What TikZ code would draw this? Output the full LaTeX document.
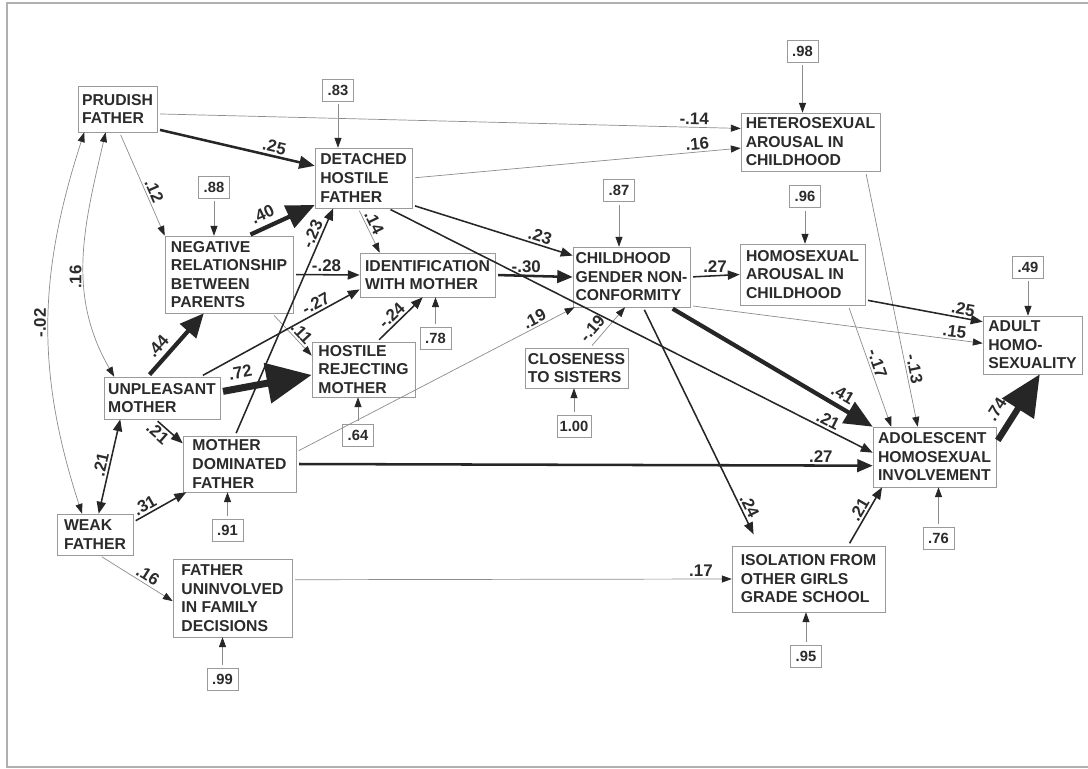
\documentclass[tikz,border=0pt]{standalone}
\usepackage{fontspec}
\setmainfont{Liberation Sans}
\usepackage{tikz}
\usetikzlibrary{arrows.meta}
\definecolor{txt}{HTML}{2B2B2B}
\definecolor{boxgray}{HTML}{9A9A9A}
\definecolor{linegray}{HTML}{8C8C8C}
\definecolor{arrowblack}{HTML}{262626}
\definecolor{framegray}{HTML}{B0B0B0}
\newcommand{\boxfont}{\fontsize{11.2}{13.2}\selectfont\bfseries}
\newcommand{\labfont}{\fontsize{12}{14}\selectfont\bfseries}
\newcommand{\resfont}{\fontsize{10.5}{12}\selectfont\bfseries}

\begin{document}
\begin{tikzpicture}[x=0.025cm,y=-0.025cm,
	var/.style 2 args={draw=boxgray,fill=white,text=txt,font=\boxfont,align=left,inner sep=1.5pt,
		minimum width=#1*0.025cm,minimum height=#2*0.025cm},
	res/.style={draw=boxgray,fill=white,text=txt,font=\resfont,inner sep=2pt,
		minimum width=31*0.025cm,minimum height=22*0.025cm},
	lab/.style={font=\labfont,text=txt,inner sep=1.5pt},
	minor/.style={color=linegray,line width=0.5pt,shorten <=2pt,
		-{Triangle[length=7pt,width=5pt,color=arrowblack]}},
	minor2/.style={color=linegray,line width=0.5pt,
		{Triangle[length=7pt,width=5pt,color=arrowblack]}-{Triangle[length=7pt,width=5pt,color=arrowblack]}},
	effect/.style={color=arrowblack,line width=1.1pt,shorten <=2pt,-{Triangle[length=8.5pt,width=6.5pt]}},
	effect2/.style={color=arrowblack,line width=1.1pt,{Triangle[length=8.5pt,width=6.5pt]}-{Triangle[length=8.5pt,width=6.5pt]}},
	strong/.style n args={3}{color=arrowblack,line width=#1,shorten <=2pt,-{Triangle[length=#2,width=#3]}}]
	\useasboundingbox (0,0) rectangle (1088,769);
	\draw[framegray,line width=1.2pt] (1088,3) -- (7,3) -- (7,767) -- (1088,767);

	% variables
	\node[var={79}{46}] (prud) at (117.5,109) {PRUDISH\\FATHER};
	\node[var={97}{60}] (det) at (363.5,178) {DETACHED\\HOSTILE\\FATHER};
	\node[var={128}{77}] (neg) at (229,274.5) {NEGATIVE\\RELATIONSHIP\\BETWEEN\\PARENTS};
	\node[var={135}{44}] (ident) at (427.5,275) {IDENTIFICATION\\WITH MOTHER};
	\node[var={103}{55}] (hostrej) at (363.5,369.5) {HOSTILE\\REJECTING\\MOTHER};
	\node[var={116}{42}] (unpl) at (162,398) {UNPLEASANT\\MOTHER};
	\node[var={113}{56}] (mdom) at (239.5,464) {MOTHER\\DOMINATED\\FATHER};
	\node[var={76}{41}] (weak) at (95,534.5) {WEAK\\FATHER};
	\node[var={119}{78}] (funinv) at (232.5,598) {FATHER\\UNINVOLVED\\IN FAMILY\\DECISIONS};
	\node[var={117}{60}] (child) at (631.5,277) {CHILDHOOD\\GENDER NON-\\CONFORMITY};
	\node[var={103}{40}] (close) at (576.5,368) {CLOSENESS\\TO SISTERS};
	\node[var={139}{58}] (hetero) at (810.5,142) {HETEROSEXUAL\\AROUSAL IN\\CHILDHOOD};
	\node[var={125}{61}] (homo) at (802.5,274.5) {HOMOSEXUAL\\AROUSAL IN\\CHILDHOOD};
	\node[var={99}{58}] (adult) at (1032.5,345) {ADULT\\HOMO-\\SEXUALITY};
	\node[var={123}{60}] (adol) at (934.5,457) {ADOLESCENT\\HOMOSEXUAL\\INVOLVEMENT};
	\node[var={153}{66}] (iso) at (808.5,579) {ISOLATION FROM\\OTHER GIRLS\\GRADE SCHOOL};

	% residuals
	\node[res] (r83) at (338,90) {.83};
	\node[res] (r98) at (802.5,51) {.98};
	\node[res] (r88) at (214,187) {.88};
	\node[res] (r87) at (619,190.5) {.87};
	\node[res] (r96) at (805,196.5) {.96};
	\node[res] (r49) at (1028,267) {.49};
	\node[res] (r78) at (435.5,338) {.78};
	\node[res] (r64) at (358,435.5) {.64};
	\node[res] (r100) at (574,426) {1.00};
	\node[res] (r91) at (227.5,530) {.91};
	\node[res] (r76) at (938.5,538) {.76};
	\node[res] (r99) at (222.5,679) {.99};
	\node[res] (r95) at (806,656.5) {.95};

	\path[minor]
	(r83.south) edge (r83.south |- det.north)
	(r98.south) edge (r98.south |- hetero.north)
	(r88.south) edge (r88.south |- neg.north)
	(r87.south) edge (r87.south |- child.north)
	(r96.south) edge (r96.south |- homo.north)
	(r49.south) edge (r49.south |- adult.north)
	(r78.north) edge (r78.north |- ident.south)
	(r64.north) edge (r64.north |- hostrej.south)
	(r100.north) edge (r100.north |- close.south)
	(r91.north) edge (r91.north |- mdom.south)
	(r76.north) edge (r76.north |- adol.south)
	(r99.north) edge (r99.north |- funinv.south)
	(r95.north) edge (r95.north |- iso.south);

	% weak paths
	\path[minor]
	(prud.-7) edge node[lab,pos=.92,above,sloped] {-.14} (hetero.169)
	(prud.-85) edge node[lab,pos=.6,above,sloped] {.12} (neg.north west)
	(det.east) edge node[lab,pos=.87,above,sloped] {.16} (hetero.-175)
	(det.-100) edge node[lab,pos=.4,above,sloped] {.14} (ident.155)
	(neg.-42) edge node[lab,pos=.6,above,sloped] {.11} (hostrej.165)
	(weak.-78) edge node[lab,pos=.6,above,sloped] {.16} (funinv.-177)
	(funinv.17) edge node[lab,pos=.93,above] {.17} (iso.west)
	(mdom.12) edge node[lab,pos=.87,above,sloped] {.19} (child.-152)
	(close.56) edge node[lab,pos=.3,above=2pt,sloped] {-.19} (child.-102)
	(child.-26) edge node[lab,pos=.9,above,sloped] {.15} (adult.178)
	(hetero.-28) edge node[lab,pos=.78,above,sloped] {-.13} (adol.119)
	(homo.-34) edge node[lab,pos=.5,above,sloped] {-.17} (adol.145);
	\path[minor2]
	(prud.-117) edge[out=-103,in=120] node[lab,pos=.58,anchor=south,rotate=90] {.16} (unpl.156)
	(prud.-145) edge[out=-108,in=108] node[lab,pos=.5,anchor=south,rotate=90] {-.02} (weak.122);

	% paths
	\path[effect]
	(neg.east) edge node[lab,above] {-.28} (ident.west)
	(unpl.29) edge node[lab,pos=.75,above,sloped] {-.27} (ident.-168)
	(mdom.99) edge node[lab,pos=.87,above,sloped] {-.23} (det.-135)
	(hostrej.64) edge node[lab,pos=.45,above,sloped] {-.24} (ident.-102)
	(det.-29) edge node[lab,pos=.78,above,sloped] {.23} (child.160)
	(det.-51) edge node[lab,pos=.9,above,sloped] {.21} (adol.176)
	(child.east) edge node[lab,above] {.27} (homo.west)
	(homo.-22) edge node[lab,pos=.82,above,sloped] {.25} (adult.155)
	(child.-69) edge[shorten >=9pt] node[lab,pos=.85,above,sloped] {.24} (iso.146)
	(iso.40) edge node[lab,pos=.55,above,sloped] {.21} (adol.-150)
	(unpl.-107) edge node[lab,pos=.3,below,sloped] {.21} (mdom.160)
	(weak.18) edge node[lab,pos=.3,above,sloped] {.31} (mdom.-152);
	\path[effect2]
	(unpl.-153) edge node[lab,above,sloped] {.21} (weak.80);
	\path[strong={1.8pt}{11pt}{9pt}]
	(prud.-27) edge node[lab,pos=.73,above,sloped] {.25} (det.166)
	(ident.east) edge node[lab,pos=.4,above] {-.30} (child.west)
	(mdom.east) edge node[lab,pos=.91,above] {.27} (adol.-172);

	% strong paths
	\path
	(unpl.124) edge[strong={3pt}{17pt}{15pt}] node[lab,pos=.35,above=2pt,sloped] {.44} (neg.-123)
	(neg.64) edge[strong={3pt}{20pt}{17pt}] node[lab,pos=.3,above=2pt,sloped] {.40} (det.-151)
	(child.-38) edge[strong={3pt}{20pt}{17pt}] node[lab,pos=.82,above=2pt,sloped] {.41} (adol.north west)
	(unpl.6) edge[strong={5pt}{32pt}{28pt}] node[lab,pos=.25,above=3pt,sloped] {.72} (hostrej.-174)
	(adol.13) edge[strong={4.5pt}{29pt}{26pt}] node[lab,pos=.35,above=5pt,sloped] {.74} (adult.-76);
\end{tikzpicture}
\end{document}
